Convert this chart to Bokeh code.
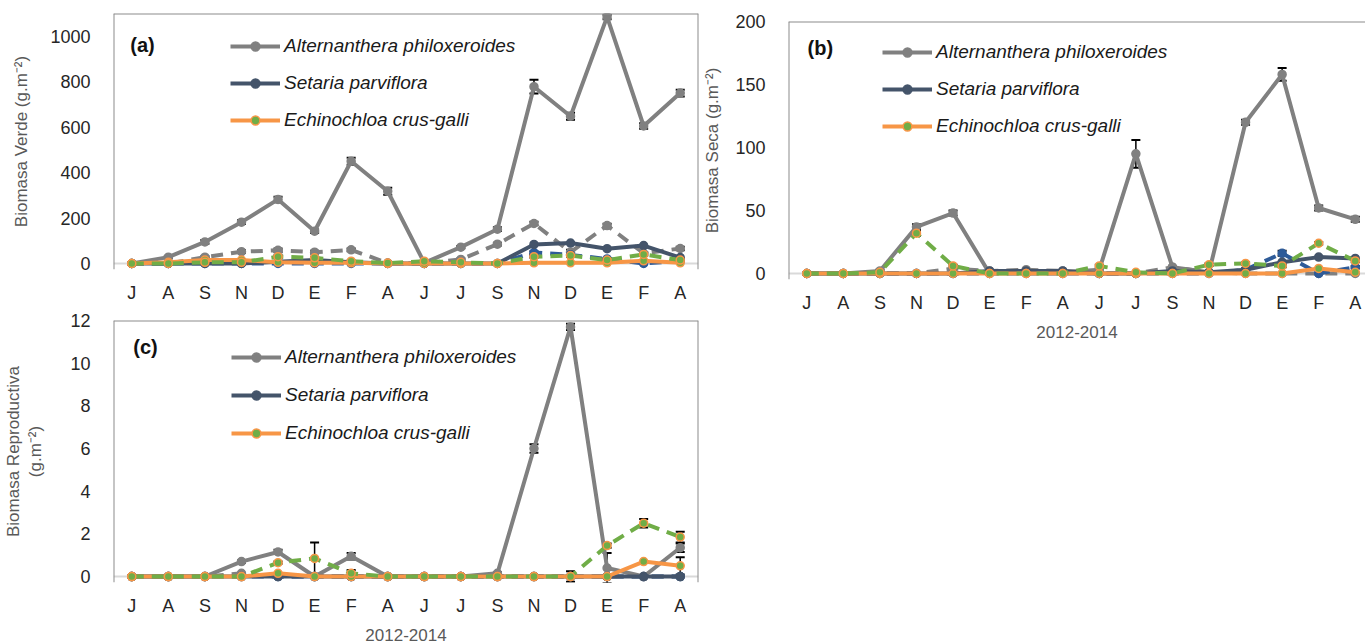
from bokeh.plotting import figure
from bokeh.models import (ColumnDataSource, Whisker, TeeHead, Legend, LegendItem,
                          Span, Label, FixedTicker, Range1d)
from bokeh.layouts import row, column
from bokeh.embed import file_html
from bokeh.resources import INLINE

# ---------------- data ----------------
months = ["J", "A", "S", "N", "D", "E", "F", "A", "J", "J", "S", "N", "D", "E", "F", "A"]
x_title = "2012-2014"
species = ["Alternanthera philoxeroides", "Setaria parviflora", "Echinochloa crus-galli"]

# (a) Biomasa Verde
ap1_a = [0, 28, 95, 182, 282, 142, 450, 318, 3, 72, 151, 778, 648, 1085, 605, 750]
ap1_a_err = [0, 5, 8, 8, 12, 8, 15, 15, 0, 5, 8, 30, 15, 10, 12, 15]
ap2_a = [0, 0, 28, 52, 58, 50, 60, 2, 0, 18, 85, 176, 50, 167, 45, 66]
ap2_a_err = [0, 0, 4, 6, 8, 6, 6, 0, 0, 4, 6, 8, 10, 8, 6, 8]
sp1_a = [0, 0, 0, 0, 8, 15, 5, 0, 0, 0, 0, 84, 90, 65, 79, 26]
sp2_a = [0, 0, 0, 0, 0, 0, 0, 0, 0, 0, 0, 48, 38, 20, 0, 12]
sp2_a_err = [0, 0, 0, 0, 0, 0, 0, 0, 0, 0, 0, 6, 8, 4, 0, 4]
ec1_a = [0, 5, 15, 15, 5, 3, 3, 0, 0, 0, 0, 3, 3, 3, 12, 3]
ec2_a = [0, 0, 5, 5, 30, 25, 10, 2, 10, 5, 0, 30, 35, 15, 40, 15]
ec2_a_err = [0, 0, 2, 2, 6, 5, 3, 0, 3, 2, 0, 5, 6, 4, 6, 4]

# (b) Biomasa Seca
ap1_b = [0, 0, 2, 37, 48, 0, 2, 1, 3, 95, 5, 1, 120, 158, 52, 43]
ap1_b_err = [0, 0, 1, 2, 2, 0, 1, 1, 0, 11, 1, 1, 2, 5, 2, 2]
ap2_b = [0, 0, 0, 0, 4, 2, 3, 2, 0, 0, 5, 1, 0, 0, 0, 0]
sp1_b = [0, 0, 0, 0, 0, 2, 2, 2, 0, 0, 2, 1, 3, 9, 13, 12]
sp2_b = [0, 0, 0, 0, 0, 0, 0, 0, 0, 0, 0, 0, 3, 16, 0, 5]
sp2_b_err = [0, 0, 0, 0, 0, 0, 0, 0, 0, 0, 0, 0, 1, 2, 0, 1]
ec1_b = [0, 0, 0, 0, 0, 0, 0, 0, 0, 0, 0, 0, 0, 0, 4, 1]
ec2_b = [0, 0, 1, 32, 6, 0, 0, 0, 6, 1, 0, 7, 8, 6, 24, 10]
ec2_b_err = [0, 0, 0, 2, 1, 0, 0, 0, 1, 0, 0, 1, 1, 1, 1, 1]

# (c) Biomasa Reproductiva
ap1_c = [0, 0, 0, 0.7, 1.15, 0, 0.95, 0, 0, 0, 0.15, 6.0, 11.7, 0.4, 0, 1.35]
ap1_c_err = [0, 0, 0, 0.05, 0.1, 0, 0.15, 0, 0, 0, 0.05, 0.2, 0.15, 0.7, 0, 0.2]
ap2_c = [0, 0, 0, 0.15, 0, 0, 0, 0, 0, 0, 0, 0, 0, 0, 0, 0]
sp1_c = [0, 0, 0, 0, 0, 0, 0, 0, 0, 0, 0, 0, 0, 0, 0, 0]
sp2_c = [0, 0, 0, 0, 0, 0, 0, 0, 0, 0, 0, 0, 0, 0, 0, 0]
ec1_c = [0, 0, 0, 0, 0.15, 0, 0, 0, 0, 0, 0, 0, 0, 0, 0.7, 0.5]
ec1_c_err = [0, 0, 0, 0, 0, 0, 0, 0, 0, 0, 0, 0, 0, 0, 0, 0.4]
ec2_c = [0, 0, 0, 0, 0.65, 0.85, 0.15, 0, 0, 0, 0, 0, 0, 1.45, 2.5, 1.85]
ec2_c_err = [0, 0, 0, 0, 0.05, 0.75, 0.15, 0, 0, 0, 0, 0, 0.25, 0.1, 0.2, 0.25]

x_idx = list(range(len(months)))

GRAY = "#808080"
BLUE = "#44546a"
BLUE2 = "#2e5b98"
ORANGE = "#f79646"
GREEN = "#70ad47"
FONT = "Liberation Sans"
PAD = 6  # px of room below the zero line so markers on 0 are not clipped


def add_series(p, y, err, color, dash, mfill, mline):
    src = ColumnDataSource(dict(x=x_idx, y=y))
    if err is not None:
        xs = [x for x, e in zip(x_idx, err) if e > 0]
        up = [v + e for v, e in zip(y, err) if e > 0]
        lo = [v - e for v, e in zip(y, err) if e > 0]
        wsrc = ColumnDataSource(dict(x=xs, upper=up, lower=lo))
        w = Whisker(source=wsrc, base="x", upper="upper", lower="lower",
                    line_color="black", line_width=1.5,
                    upper_head=TeeHead(size=9, line_color="black", line_width=2),
                    lower_head=TeeHead(size=9, line_color="black", line_width=2))
        p.add_layout(w)
    l = p.line("x", "y", source=src, line_color=color, line_width=4, line_dash=dash)
    s = p.scatter("x", "y", source=src, size=8, fill_color=mfill, line_color=mline,
                  line_width=1.5)
    return l, s


def make_panel(width, height, left, right, top, bottom, ymax, yticks, xend,
               ylabel, xlabel, tag, tag_pos, legend_loc, legend_spacing,
               series, ylabel_standoff, draw_right=True):
    frame_h = height - top - bottom
    ymin = -ymax * PAD / (frame_h - PAD)
    p = figure(width=width, height=height, output_backend="svg", toolbar_location=None,
               x_range=Range1d(-0.5, xend), y_range=Range1d(ymin, ymax),
               min_border_left=left, min_border_right=right,
               min_border_top=top, min_border_bottom=bottom)
    p.outline_line_color = None
    p.xgrid.visible = False
    p.ygrid.visible = False
    p.background_fill_color = "white"

    for ax in (p.xaxis[0], p.yaxis[0]):
        ax.major_tick_line_color = None
        ax.minor_tick_line_color = None
        ax.major_label_text_font = FONT
        ax.major_label_text_font_size = "18px"
        ax.major_label_text_color = "#262626"
        ax.axis_label_text_font = FONT
        ax.axis_label_text_font_size = "17px"
        ax.axis_label_text_font_style = "normal"
        ax.axis_label_text_color = "#595959"

    p.xaxis.ticker = FixedTicker(ticks=x_idx)
    p.xaxis.major_label_overrides = {i: m for i, m in zip(x_idx, months)}
    p.xaxis.axis_line_color = None
    p.xaxis.major_label_standoff = 7
    if xlabel:
        p.xaxis.axis_label = xlabel
        p.xaxis.axis_label_standoff = 10

    p.yaxis.ticker = FixedTicker(ticks=yticks)
    p.yaxis.axis_line_color = None
    p.yaxis.major_label_standoff = 17
    p.yaxis.axis_label = ylabel
    p.yaxis.axis_label_standoff = ylabel_standoff

    # category axis line at zero and frame borders (top, left, right)
    p.add_layout(Span(location=0, dimension="width", line_color="#d9d9d9", line_width=2,
                      level="underlay"))
    p.add_layout(Span(location=ymax, dimension="width", line_color="#8c8c8c", line_width=2))
    p.add_layout(Span(location=-0.5, dimension="height", line_color="#8c8c8c", line_width=2))
    if draw_right:
        p.add_layout(Span(location=xend, dimension="height", line_color="#8c8c8c", line_width=2))

    ap1, ap1e, ap2, ap2e, sp1, sp2, sp2e, ec1, ec1e, ec2, ec2e = series
    add_series(p, ap2, ap2e, GRAY, "12 8", GRAY, GRAY)
    add_series(p, sp2, sp2e, BLUE2, "12 8", BLUE2, BLUE2)
    r_ap1 = add_series(p, ap1, ap1e, GRAY, "solid", GRAY, GRAY)
    r_sp1 = add_series(p, sp1, None, BLUE, "solid", BLUE, BLUE)
    r_ec1 = add_series(p, ec1, ec1e, ORANGE, "solid", GREEN, ORANGE)
    add_series(p, ec2, ec2e, GREEN, "12 8", GREEN, ORANGE)

    legend = Legend(items=[LegendItem(label=species[0], renderers=list(r_ap1)),
                           LegendItem(label=species[1], renderers=list(r_sp1)),
                           LegendItem(label=species[2], renderers=list(r_ec1))],
                    location=legend_loc, padding=0, margin=0, spacing=legend_spacing,
                    glyph_width=50, glyph_height=22, label_height=22, label_standoff=4,
                    border_line_color=None, background_fill_alpha=0,
                    label_text_font=FONT, label_text_font_size="19px",
                    label_text_font_style="italic", label_text_color="#1a1a1a")
    p.add_layout(legend)

    p.add_layout(Label(x=tag_pos[0], y=tag_pos[1], text=tag, text_font=FONT,
                       text_font_size="20px", text_font_style="bold",
                       text_color="#111111", text_baseline="middle", text_align="left"))
    return p


pa = make_panel(700, 310, 110, 2, 13, 41, 1100, [0, 200, 400, 600, 800, 1000], 15.5,
                "Biomasa Verde (g.m⁻²)", None, "(a)", (-0.04, 961), (117, 138), 15,
                (ap1_a, ap1_a_err, ap2_a, ap2_a_err, sp1_a, sp2_a, sp2_a_err,
                 ec1_a, None, ec2_a, ec2_a_err), 16)

pc = make_panel(700, 333, 106, 2, 10, 60, 12, [0, 2, 4, 6, 8, 10, 12], 15.5,
                "Biomasa Reproductiva\n(g.m⁻²)", x_title, "(c)", (0.04, 10.74), (118, 138), 16,
                (ap1_c, ap1_c_err, ap2_c, None, sp1_c, sp2_c, None,
                 ec1_c, ec1_c_err, ec2_c, ec2_c_err), 22)

pb = make_panel(665, 345, 83, 0, 21, 66, 200, [0, 50, 100, 150, 200], 15.28,
                "Biomasa Seca (g.m⁻²)", x_title, "(b)", (0.02, 178.6), (94, 142), 15,
                (ap1_b, ap1_b_err, ap2_b, None, sp1_b, sp2_b, sp2_b_err,
                 ec1_b, None, ec2_b, ec2_b_err), 10, draw_right=False)

layout = row(column(pa, pc, spacing=0), pb, spacing=0)

open("out.html", "w").write(file_html(layout, INLINE))
